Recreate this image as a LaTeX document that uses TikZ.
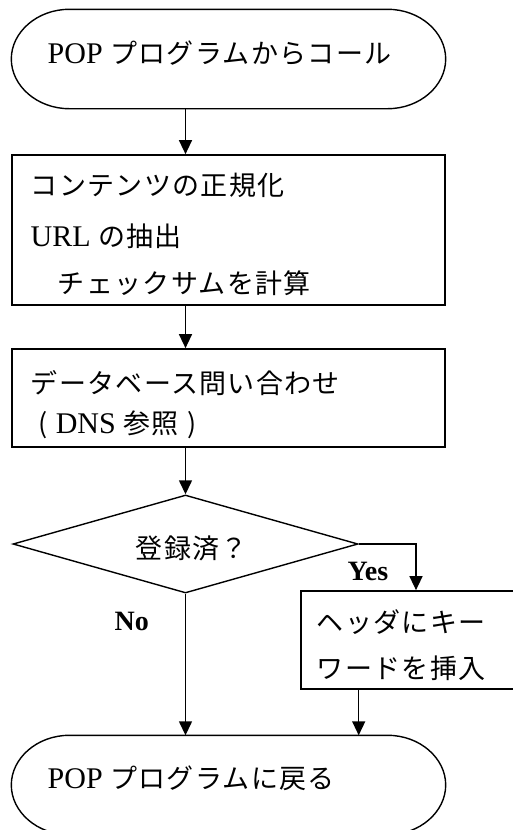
\documentclass[tikz,border=0pt]{standalone}
\usepackage{fontspec}
\setmainfont{Liberation Serif}
\newfontfamily\jp[Scale=0.9,LetterSpace=5]{Noto Sans CJK JP}
\usetikzlibrary{arrows.meta,shapes.geometric,calc}
\newcommand\terminalpath[1]{%
  \draw ([xshift=58pt]#1.north west) -- ([xshift=-58pt]#1.north east)
    .. controls +(32pt,0) and +(0,27pt) .. (#1.east)
    .. controls +(0,-27pt) and +(32pt,0) .. ([xshift=-58pt]#1.south east)
    -- ([xshift=58pt]#1.south west)
    .. controls +(-32pt,0) and +(0,-27pt) .. (#1.west)
    .. controls +(0,27pt) and +(-32pt,0) .. cycle;}
\begin{document}
\begin{tikzpicture}[x=1pt,y=-1pt, line width=1.4pt,
  shapebox/.style={draw, rectangle, inner sep=0pt, line width=1.7pt},
  term/.style={rectangle, inner sep=0pt, minimum width=433pt, minimum height=98pt},
  txt/.style={anchor=base west, inner sep=0pt, font=\fontsize{30}{30}\selectfont},
  lbl/.style={anchor=base west, inner sep=0pt, font=\fontsize{28}{28}\selectfont\bfseries},
  arr/.style={-{Triangle[width=13pt,length=14pt]}}]
\useasboundingbox (0,0) rectangle (513,830);

% shapes
\node[term] (t1) at (228.5,59) {};
\terminalpath{t1}
\node[shapebox, minimum width=433pt, minimum height=150pt] (b1) at (228.5,230) {};
\node[shapebox, minimum width=433pt, minimum height=98pt] (b2) at (228.5,398) {};
\node[draw, diamond, inner sep=0pt, minimum width=345pt, minimum height=98pt] (d) at (185.5,544) {};
\node[shapebox, minimum width=240pt, minimum height=98pt] (b3) at (421,640) {};
\node[term] (t2) at (228.5,785) {};
\terminalpath{t2}

% texts
\node[txt] (t1txt) at (47,63) {POP {\jp プログラムからコール}};
\node[txt] (b1a) at (30,195) {\jp コンテンツの正規化};
\node[txt] (b1b) at (30,246) {URL {\jp の抽出}};
\node[txt] (b1c) at (57,293) {\jp チェックサムを計算};
\node[txt] (b2a) at (30,393) {\jp データベース問い合わせ};
\node[txt] (b2b) at (38,433) {{\jp (}\hspace{8pt}DNS {\jp 参照}\hspace{9pt}{\jp )}};
\node[txt] (dtxt) at (135,558) {\jp 登録済？};
\node[txt] (b3a) at (316,632) {\jp ヘッダにキー};
\node[txt] (b3b) at (316,678) {\jp ワードを挿入};
\node[txt] (t2txt) at (47,788) {POP {\jp プログラムに戻る}};
\node[lbl] (yes) at (347,580) {Yes};
\node[lbl] (no) at (114,630) {No};

% connectors
\draw[arr] (t1.south -| d.north) -- (b1.north -| d.north);
\draw[arr] (b1.south -| d.north) -- (b2.north -| d.north);
\draw[arr] (b2.south -| d.north) -- (d.north);
\draw[arr] (d.east) -| ([xshift=-5pt]b3.north);
\draw[arr] (d.south) -- (d.south |- t2.north);
\draw[arr] (b3.south -| d.east) -- (t2.north -| d.east);
\end{tikzpicture}
\end{document}
